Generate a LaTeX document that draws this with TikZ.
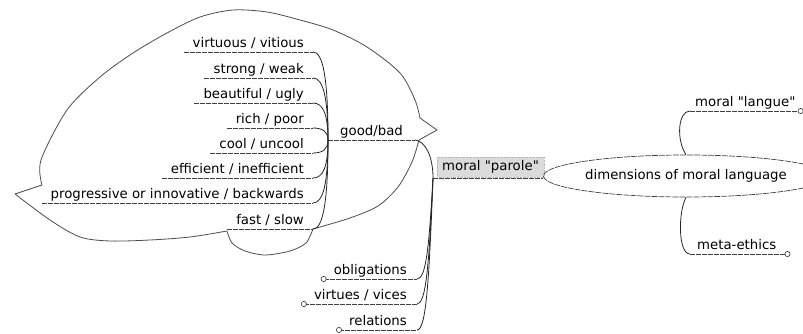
\documentclass[tikz,border=0pt]{standalone}
\usepackage{fontspec}
\setmainfont{DejaVu Sans}[Ligatures=TeXOff]
\usetikzlibrary{shapes.geometric}
\begin{document}
\begin{tikzpicture}[x=1pt,y=-1pt,
  every node/.style={font=\fontsize{13.3}{16}\selectfont},
  leaf/.style={inner xsep=9pt, inner ysep=0pt, text height=10pt, text depth=4.5pt},
  ul/.style={draw=black!75, line width=0.7pt, dash pattern=on 5pt off 1pt},
  br/.style={draw=black!85, line width=0.8pt},
  cloudline/.style={draw=black!70, line width=0.8pt},
  knob/.style={draw=black!80, fill=white, line width=0.6pt}]
\useasboundingbox (0,0) rectangle (803,334);

% cloud around good/bad children
\draw[cloudline] (15,194) -- (42,185)
  -- plot[smooth] coordinates {(42,185) (41,160) (67,110) (100,77) (133,53) (167,33) (200,17) (233,10) (267,12) (300,20) (333,30) (367,47) (400,73) (415,100) (420,118)}
  -- (437,130) -- (419,140)
  -- plot[smooth] coordinates {(419,140) (412,162) (398,187) (378,206) (350,218) (313,229)}
  -- plot[smooth] coordinates {(313,229) (306,243) (290,251) (265,255) (245,251) (232,243) (227,231)}
  -- plot[smooth] coordinates {(227,231) (190,237) (150,240) (110,241) (80,237) (50,220) (15,194)};

% good/bad and its children
\node[leaf, anchor=south west, inner xsep=12pt] (gb) at (328,140) {good/bad};
\node[leaf, anchor=south east] (c1) at (313,52) {virtuous / vitious};
\node[leaf, anchor=south east] (c2) at (313,78) {strong / weak};
\node[leaf, anchor=south east] (c3) at (313,103) {beautiful / ugly};
\node[leaf, anchor=south east] (c4) at (313,128) {rich / poor};
\node[leaf, anchor=south east] (c5) at (313,153) {cool / uncool};
\node[leaf, anchor=south east] (c6) at (313,178) {efficient / inefficient};
\node[leaf, anchor=south east] (c7) at (313,203) {progressive or innovative / backwards};
\node[leaf, anchor=south east] (c8) at (313,229) {fast / slow};

\foreach \n in {gb,c1,c2,c3,c4,c5,c6,c7,c8}
  \draw[ul] (\n.south west) -- (\n.south east);

\draw[br] (c1.south east) .. controls +(10,0) and +(0,-62) .. (gb.south west);
\draw[br] (c2.south east) .. controls +(10,0) and +(0,-43) .. (gb.south west);
\draw[br] (c3.south east) .. controls +(10,0) and +(0,-26) .. (gb.south west);
\draw[br] (c4.south east) .. controls +(10,0) and +(0,-8) .. (gb.south west);
\draw[br] (c5.south east) .. controls +(10,0) and +(0,9) .. (gb.south west);
\draw[br] (c6.south east) .. controls +(10,0) and +(0,27) .. (gb.south west);
\draw[br] (c7.south east) .. controls +(10,0) and +(0,44) .. (gb.south west);
\draw[br] (c8.south east) .. controls +(10,0) and +(0,62) .. (gb.south west);

% moral parole
\coordinate (pj) at (433,178);
\node[anchor=south west, inner xsep=5pt, inner ysep=3.5pt, text height=10pt, text depth=3pt,
      fill=gray!28, draw=gray!55, densely dotted] (p) at (437,177) {moral "parole"};

\node[ellipse, draw=black!75, line width=0.7pt, dash pattern=on 6pt off 1pt,
      minimum width=228pt, minimum height=42pt, inner sep=0pt] (dim) at (686,176) {dimensions of moral language};

\draw[br] (gb.south east) .. controls +(10,1) and +(0,-22) .. (pj);
\draw[ul] (pj) -- (dim.west |- pj);

% parole children
\node[leaf, anchor=south east, inner xsep=10pt] (o1) at (417,279) {obligations};
\node[leaf, anchor=south east, inner xsep=10pt] (o2) at (417,304) {virtues / vices};
\node[leaf, anchor=south east, inner xsep=10pt] (o3) at (417,330) {relations};
\foreach \n in {o1,o2,o3}
  \draw[ul] (\n.south west) -- (\n.south east);
\draw[br] (o1.south east) .. controls +(9,0) and +(-4,70) .. (pj);
\draw[br] (o2.south east) .. controls +(9,0) and +(-4,88) .. (pj);
\draw[br] (o3.south east) .. controls +(9,0) and +(-4,106) .. (pj);
\foreach \n in {o1,o2,o3}
  \draw[knob] (\n.south west) circle (2.6pt);

% right side
\node[leaf, anchor=south west, inner xsep=5pt] (lg) at (690,111) {moral "langue"};
\node[leaf, anchor=south west, inner xsep=7pt] (me) at (690,254) {meta-ethics};
\draw[ul] (lg.south west) -- (lg.south east);
\draw[ul] (me.south west) -- ([xshift=4pt]me.south east);
\draw[br] (dim.north) .. controls +(-10,-15) and +(-12,0) .. (lg.south west);
\draw[br] (dim.south) .. controls +(-8,15) and +(-12,0) .. (me.south west);
\draw[knob] (lg.south east) circle (2.6pt);
\draw[knob] ([xshift=4pt]me.south east) circle (2.6pt);
\end{tikzpicture}
\end{document}
